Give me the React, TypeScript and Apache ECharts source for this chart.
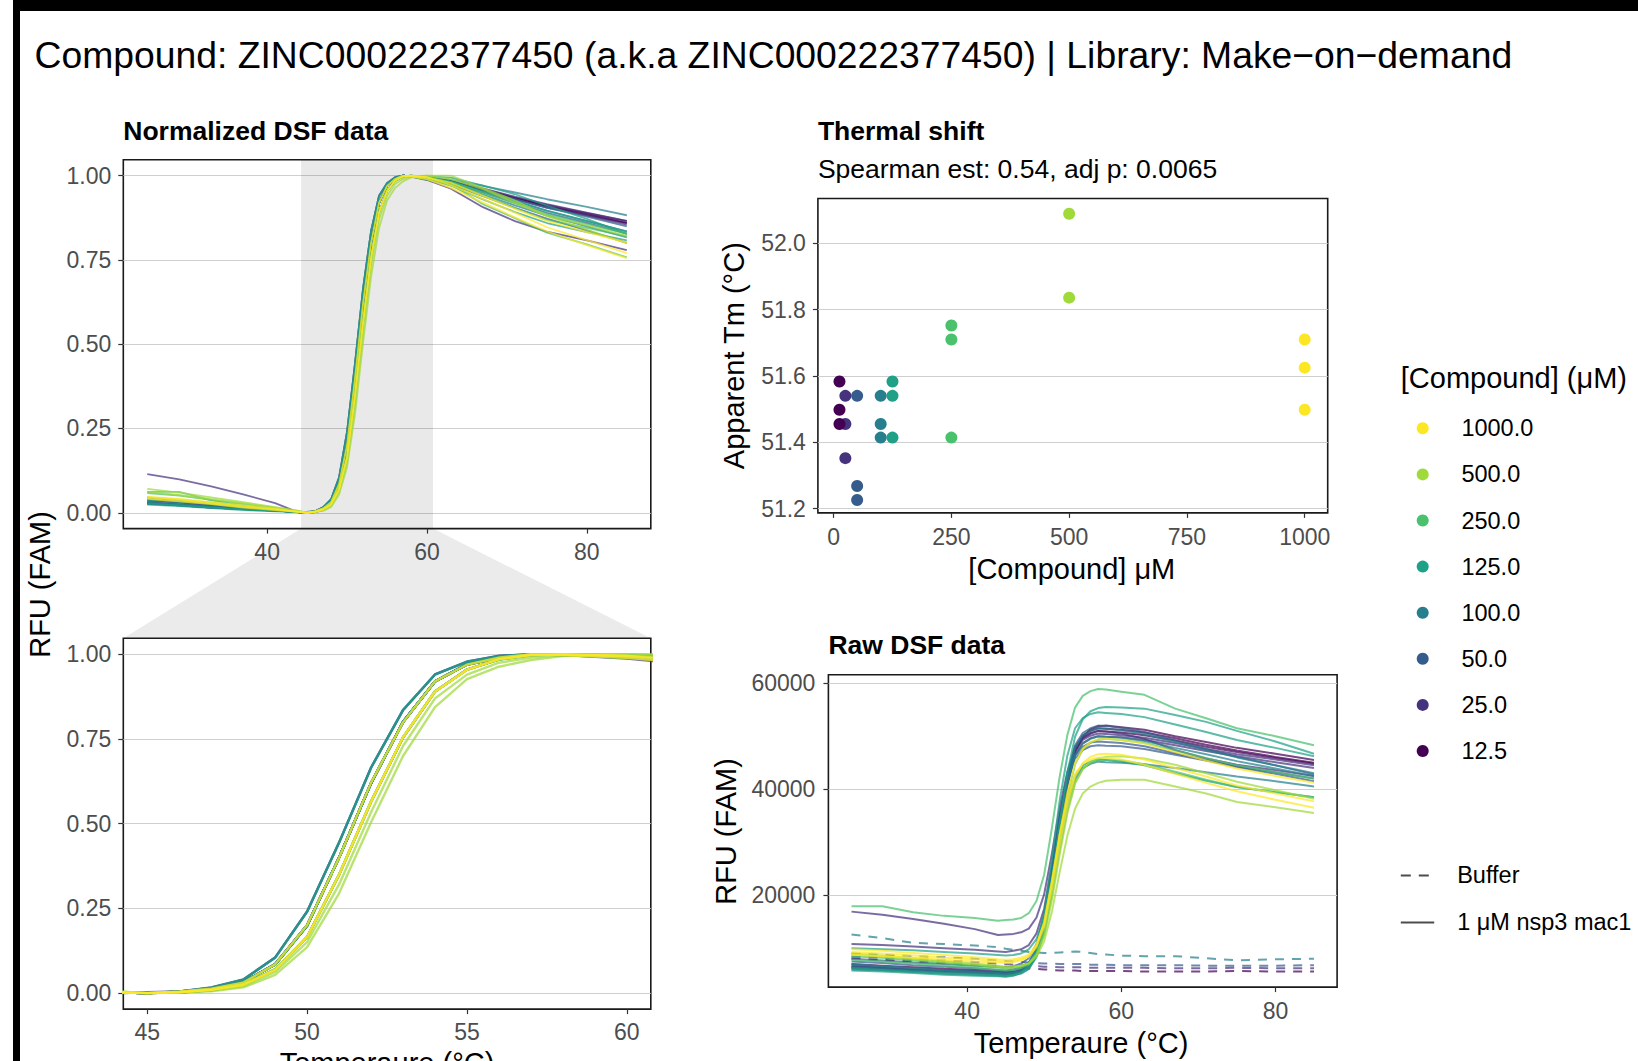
import React, { useEffect, useRef } from "react";
import * as echarts from "echarts";

const W = 1638;
const H = 1061;
const FONT = '"Liberation Sans", Arial, Helvetica, sans-serif';

// ---------------- data ----------------
const temps = [25, 29, 33, 37, 41, 44, 45, 46, 47, 48, 49, 50, 51, 52, 53, 54, 55, 56, 57, 58, 60, 63, 67, 71, 75, 80, 85];

const concLabels = ["1000.0", "500.0", "250.0", "125.0", "100.0", "50.0", "25.0", "12.5"];
const concColors = ["#FDE725", "#9FDA3A", "#4AC16D", "#1FA187", "#277F8E", "#365C8D", "#46337E", "#440154"];

// raw RFU, in hundreds of RFU, one array per well
const raw1000a = [98, 95, 91, 87, 83, 79, 78, 79, 82, 88, 107, 147, 224, 314, 393, 449, 476, 489, 494, 495, 493, 486, 470, 454, 439, 425, 412];
const raw1000b = [93, 90, 86, 82, 79, 76, 75, 76, 79, 85, 102, 140, 212, 296, 371, 424, 449, 461, 466, 467, 465, 456, 440, 424, 407, 392, 377];
const raw1000c = [88, 85, 82, 78, 75, 73, 72, 74, 77, 84, 105, 150, 227, 313, 382, 429, 448, 456, 460, 459, 456, 446, 429, 412, 396, 380, 365];
const raw500a = [90, 86, 81, 76, 71, 67, 65, 66, 67, 71, 84, 113, 169, 243, 312, 363, 392, 405, 412, 416, 418, 418, 405, 392, 376, 366, 355];
const raw500b = [88, 84, 79, 74, 69, 65, 63, 64, 66, 71, 88, 123, 191, 276, 354, 410, 438, 452, 458, 461, 462, 458, 446, 430, 414, 398, 382];
const raw250a = [179, 179, 168, 161, 157, 152, 153, 154, 157, 166, 189, 239, 327, 423, 502, 554, 576, 585, 589, 588, 584, 578, 552, 534, 515, 500, 483];
const raw250b = [85, 82, 77, 72, 67, 63, 62, 63, 66, 72, 90, 127, 200, 285, 359, 413, 438, 450, 455, 456, 454, 447, 433, 418, 404, 395, 385];
const raw250c = [78, 75, 71, 67, 63, 59, 58, 59, 62, 69, 89, 130, 211, 305, 388, 447, 475, 488, 494, 495, 493, 487, 473, 459, 445, 432, 420];
const raw125a = [62, 59, 56, 53, 51, 49, 48, 50, 53, 61, 83, 132, 225, 334, 431, 499, 532, 547, 553, 555, 554, 552, 540, 527, 510, 490, 467];
const raw125b = [58, 56, 53, 50, 48, 47, 46, 48, 54, 66, 98, 166, 268, 378, 463, 515, 534, 542, 545, 544, 542, 536, 522, 508, 493, 478, 462];
const raw125c = [100, 98, 96, 93, 90, 87, 86, 87, 90, 98, 117, 160, 234, 315, 382, 426, 445, 452, 456, 455, 452, 445, 430, 416, 404, 394, 385];
const raw100a = [64, 61, 58, 55, 53, 51, 50, 52, 56, 65, 90, 143, 236, 338, 422, 478, 501, 510, 515, 514, 511, 504, 489, 474, 460, 445, 430];
const raw100b = [60, 58, 55, 52, 50, 48, 47, 49, 52, 61, 86, 138, 228, 328, 409, 464, 486, 495, 500, 499, 497, 491, 478, 466, 453, 439, 425];
const raw100c = [70, 66, 62, 58, 55, 53, 52, 54, 57, 65, 86, 132, 212, 300, 372, 420, 440, 448, 452, 451, 450, 447, 440, 432, 424, 415, 405];
const raw50a = [75, 72, 68, 65, 62, 59, 58, 60, 64, 73, 97, 150, 243, 344, 428, 483, 506, 515, 520, 519, 516, 508, 492, 476, 461, 445, 428];
const raw50b = [68, 65, 62, 59, 57, 55, 54, 56, 61, 71, 100, 159, 248, 344, 418, 464, 480, 488, 490, 489, 487, 481, 468, 455, 442, 429, 415];
const raw50c = [80, 77, 73, 70, 67, 65, 64, 66, 71, 81, 108, 165, 250, 343, 414, 458, 474, 481, 483, 482, 481, 476, 465, 454, 443, 432, 420];
const raw25a = [169, 163, 155, 146, 136, 125, 126, 127, 130, 137, 158, 202, 279, 364, 433, 479, 498, 506, 510, 509, 505, 495, 474, 458, 446, 436, 425];
const raw25b = [108, 106, 103, 100, 97, 94, 93, 95, 98, 106, 128, 175, 258, 348, 423, 472, 493, 501, 505, 504, 502, 497, 487, 476, 466, 456, 445];
const raw25c = [65, 62, 59, 57, 55, 53, 52, 54, 57, 66, 90, 142, 231, 330, 410, 464, 487, 496, 500, 499, 498, 493, 483, 472, 462, 451, 440];
const raw12a = [70, 67, 64, 61, 59, 57, 56, 57, 60, 68, 88, 133, 218, 318, 406, 469, 499, 513, 519, 520, 517, 512, 500, 489, 478, 467, 455];
const raw12b = [66, 63, 60, 58, 56, 54, 53, 55, 59, 68, 92, 145, 238, 339, 423, 478, 501, 510, 515, 514, 512, 507, 496, 484, 473, 461, 450];
const raw12c = [62, 60, 57, 55, 53, 51, 50, 52, 56, 65, 89, 142, 234, 335, 418, 473, 496, 505, 510, 509, 507, 502, 492, 480, 470, 459, 448];

// buffer-only wells (dashed), hundreds of RFU
const bufTeal = [126, 119, 110, 108, 105, 102, 99, 97, 95, 93, 92, 91, 91, 92, 93, 94, 93, 91, 89, 88, 86, 85, 85, 81, 77, 79, 80];
const bufBlue = [90, 88, 85, 83, 80, 77, 76, 75, 74, 73, 72, 71, 71, 70, 70, 70, 70, 69, 69, 69, 68, 68, 68, 67, 67, 67, 68];
const bufPurple = [84, 82, 79, 77, 74, 71, 70, 69, 68, 67, 66, 65, 65, 64, 64, 64, 64, 63, 63, 63, 63, 63, 62, 62, 63, 62, 62];
const bufDark = [80, 78, 75, 72, 69, 66, 65, 64, 63, 62, 61, 60, 59, 58, 58, 58, 57, 57, 57, 57, 57, 56, 56, 56, 57, 56, 56];

// thermal shift scatter
const tmConc = [12.5, 12.5, 12.5, 25, 25, 25, 50, 50, 50, 100, 100, 100, 125, 125, 125, 250, 250, 250, 500, 500, 1000, 1000, 1000];
const tmValues = [51.583, 51.498, 51.455, 51.54, 51.455, 51.352, 51.54, 51.268, 51.226, 51.54, 51.455, 51.414, 51.583, 51.54, 51.414, 51.752, 51.71, 51.414, 52.089, 51.836, 51.71, 51.625, 51.498];

// ticks
const tempTicksFull = [40, 60, 80];
const tempTicksZoom = [45, 50, 55, 60];
const normTicks = [0, 0.25, 0.5, 0.75, 1];
const tmTicks = [51.2, 51.4, 51.6, 51.8, 52.0];
const concTicks = [0, 250, 500, 750, 1000];
const rawTicks = [20000, 40000, 60000];
const zoomRange = [44.25, 60.75];

// drawn from low to high concentration, so the high ones end up on top
const wells = [
  { conc: "12.5", values: raw12a }, { conc: "12.5", values: raw12b }, { conc: "12.5", values: raw12c },
  { conc: "25.0", values: raw25a }, { conc: "25.0", values: raw25b }, { conc: "25.0", values: raw25c },
  { conc: "50.0", values: raw50a }, { conc: "50.0", values: raw50b }, { conc: "50.0", values: raw50c },
  { conc: "100.0", values: raw100a }, { conc: "100.0", values: raw100b }, { conc: "100.0", values: raw100c },
  { conc: "125.0", values: raw125a }, { conc: "125.0", values: raw125b }, { conc: "125.0", values: raw125c },
  { conc: "250.0", values: raw250a }, { conc: "250.0", values: raw250b }, { conc: "250.0", values: raw250c },
  { conc: "500.0", values: raw500a }, { conc: "500.0", values: raw500b },
  { conc: "1000.0", values: raw1000a }, { conc: "1000.0", values: raw1000b }, { conc: "1000.0", values: raw1000c },
];
const buffers = [
  { conc: "100.0", values: bufTeal },
  { conc: "50.0", values: bufBlue },
  { conc: "25.0", values: bufPurple },
  { conc: "12.5", values: bufDark },
];

const colorOf = (c: string) => concColors[concLabels.indexOf(c)];
const normalize = (v: number[]) => {
  const mn = Math.min(...v);
  const mx = Math.max(...v);
  return v.map((x) => (x - mn) / (mx - mn));
};

// ---------------- layout ----------------
const G_NL = { left: 123.3, top: 159.8, width: 527.5, height: 368.8 };
const G_NB = { left: 123.3, top: 638.3, width: 527.5, height: 370.8 };
const G_TS = { left: 817.9, top: 198.5, width: 509.8, height: 314.4 };
const G_RAW = { left: 828.4, top: 674.8, width: 508.7, height: 312.3 };

const gridStyle = { show: true, borderColor: "#1a1a1a", borderWidth: 1.6, backgroundColor: "transparent", containLabel: false, outerBoundsMode: "none" };

function axisBase(ticks: number[], fmt: (v: number) => string, margin: number, split: boolean) {
  return {
    type: "value",
    axisLine: { show: false, onZero: false },
    axisTick: { show: true, length: 5, inside: false, customValues: ticks, lineStyle: { color: "#333333", width: 1.2 } },
    axisLabel: { show: true, customValues: ticks, formatter: fmt, fontSize: 23, color: "#4d4d4d", fontFamily: FONT, margin, showMinLabel: true, showMaxLabel: true, hideOverlap: false },
    splitLine: { show: split, lineStyle: { color: "#cfcfcf", width: 1.2 } },
  };
}

function line(xi: number, data: number[][], color: string, dashed: boolean, width: number) {
  return {
    type: "line",
    xAxisIndex: xi,
    yAxisIndex: xi,
    data,
    symbol: "none",
    showSymbol: false,
    silent: true,
    clip: true,
    z: 3,
    lineStyle: { color, width, opacity: 0.72, type: dashed ? [9, 8] : "solid" },
    itemStyle: { color },
  };
}

function buildOption() {
  const series: any[] = [];
  // shaded zoom area in top panel
  series.push({
    type: "line",
    xAxisIndex: 0,
    yAxisIndex: 0,
    data: [],
    silent: true,
    z: 1,
    markArea: {
      silent: true,
      itemStyle: { color: "rgba(0,0,0,0.085)" },
      data: [[{ xAxis: zoomRange[0] }, { xAxis: zoomRange[1] }]],
    },
  });
  wells.forEach((w) => {
    const n = normalize(w.values);
    series.push(line(0, temps.map((t, i) => [t, n[i]]), colorOf(w.conc), false, 1.8));
  });
  wells.forEach((w) => {
    const n = normalize(w.values);
    series.push(line(1, temps.map((t, i) => [t, n[i]]), colorOf(w.conc), false, 2.4));
  });
  buffers.forEach((b) => {
    series.push(line(3, temps.map((t, i) => [t, b.values[i] * 100]), colorOf(b.conc), true, 2));
  });
  wells.forEach((w) => {
    series.push(line(3, temps.map((t, i) => [t, w.values[i] * 100]), colorOf(w.conc), false, 2));
  });
  concLabels.forEach((c) => {
    const cv = parseFloat(c);
    const pts: number[][] = [];
    tmConc.forEach((x, i) => {
      if (x === cv) pts.push([x, tmValues[i]]);
    });
    series.push({
      type: "scatter",
      name: c,
      xAxisIndex: 2,
      yAxisIndex: 2,
      data: pts,
      symbol: "circle",
      symbolSize: 12,
      silent: true,
      z: 4,
      itemStyle: { color: colorOf(c), opacity: 1 },
    });
  });

  const f2 = (v: number) => v.toFixed(2);
  const f1 = (v: number) => v.toFixed(1);
  const f0 = (v: number) => String(Math.round(v));

  return {
    animation: false,
    backgroundColor: "#ffffff",
    textStyle: { fontFamily: FONT },
    grid: [
      { ...gridStyle, ...G_NL },
      { ...gridStyle, ...G_NB },
      { ...gridStyle, ...G_TS },
      { ...gridStyle, ...G_RAW },
    ],
    xAxis: [
      { ...axisBase(tempTicksFull, f0, 12, false), gridIndex: 0, min: 22, max: 88 },
      { ...axisBase(tempTicksZoom, f0, 11, false), gridIndex: 1, min: zoomRange[0], max: zoomRange[1] },
      { ...axisBase(concTicks, f0, 13, false), gridIndex: 2, min: -33.3, max: 1048.8 },
      { ...axisBase(tempTicksFull, f0, 12, false), gridIndex: 3, min: 22, max: 88 },
    ],
    yAxis: [
      { ...axisBase(normTicks, f2, 12, true), gridIndex: 0, min: -0.047, max: 1.047 },
      { ...axisBase(normTicks, f2, 12, true), gridIndex: 1, min: -0.047, max: 1.047 },
      { ...axisBase(tmTicks, f1, 12, true), gridIndex: 2, min: 51.187, max: 52.135 },
      { ...axisBase(rawTicks, f0, 13, true), gridIndex: 3, min: 2660, max: 61585 },
    ],
    series,
  };
}

function txt(text: string, x: number, y: number, size: number, o: any = {}) {
  return {
    type: "text",
    x,
    y,
    rotation: o.rot || 0,
    z: 20,
    silent: true,
    style: {
      text,
      x: 0,
      y: 0,
      fill: o.color || "#000000",
      fontSize: size,
      fontFamily: FONT,
      fontWeight: o.bold ? "bold" : "normal",
      align: o.align || "left",
      verticalAlign: "middle",
    },
  };
}

function buildGraphics(poly: number[][]) {
  const els: any[] = [];
  // outer frame of the screenshot
  els.push({ type: "rect", z: 30, silent: true, shape: { x: 13, y: 0, width: W - 13, height: 11 }, style: { fill: "#000000" } });
  els.push({ type: "rect", z: 30, silent: true, shape: { x: 13, y: 0, width: 7, height: H }, style: { fill: "#000000" } });
  // zoom connector
  els.push({ type: "polygon", z: -5, silent: true, shape: { points: poly }, style: { fill: "#ebebeb" } });

  els.push(txt("Compound: ZINC000222377450 (a.k.a ZINC000222377450) | Library: Make\u2212on\u2212demand", 34.5, 55.4, 37.3));
  els.push(txt("Normalized DSF data", 123.3, 130.6, 26.5, { bold: true }));
  els.push(txt("Thermal shift", 817.9, 130.6, 26.5, { bold: true }));
  els.push(txt("Spearman est: 0.54, adj p: 0.0065", 817.9, 169.2, 26.5));
  els.push(txt("Raw DSF data", 828.4, 644.5, 26.5, { bold: true }));

  els.push(txt("RFU (FAM)", 39.7, 584.5, 29, { rot: Math.PI / 2, align: "center" }));
  els.push(txt("Temperaure (\u00b0C)", 387, 1063, 29, { align: "center" }));
  els.push(txt("Apparent Tm (\u00b0C)", 734.4, 355.7, 29, { rot: Math.PI / 2, align: "center" }));
  els.push(txt("[Compound] \u03bcM", 1071.8, 569.3, 29, { align: "center" }));
  els.push(txt("RFU (FAM)", 726, 831.5, 29, { rot: Math.PI / 2, align: "center" }));
  els.push(txt("Temperaure (\u00b0C)", 1081, 1042.5, 29, { align: "center" }));

  // colour legend
  els.push(txt("[Compound] (\u03bcM)", 1400.8, 378.2, 29));
  concLabels.forEach((c, i) => {
    const y = 428.3 + i * 46.1;
    els.push({ type: "circle", z: 20, silent: true, shape: { cx: 1422.7, cy: y, r: 6 }, style: { fill: colorOf(c) } });
    els.push(txt(c, 1461.4, y, 23.5));
  });

  // linetype legend
  els.push({ type: "line", z: 20, silent: true, shape: { x1: 1400.8, y1: 875.4, x2: 1434.2, y2: 875.4 }, style: { stroke: "#4d4d4d", lineWidth: 2, lineDash: [10, 8] } });
  els.push(txt("Buffer", 1457.2, 875.4, 23.5));
  els.push({ type: "line", z: 20, silent: true, shape: { x1: 1400.8, y1: 922.4, x2: 1434.2, y2: 922.4 }, style: { stroke: "#4d4d4d", lineWidth: 2 } });
  els.push(txt("1 \u03bcM nsp3 mac1", 1457.2, 922.4, 23.5));
  return els;
}

export default function App() {
  const ref = useRef<HTMLDivElement>(null);
  useEffect(() => {
    if (!ref.current) return;
    const chart = echarts.init(ref.current, null, { renderer: "svg" });
    chart.setOption(buildOption() as any);
    const a = chart.convertToPixel({ gridIndex: 0 }, [zoomRange[0], -0.047]) as number[];
    const b = chart.convertToPixel({ gridIndex: 0 }, [zoomRange[1], -0.047]) as number[];
    const c = chart.convertToPixel({ gridIndex: 1 }, [zoomRange[1], 1.047]) as number[];
    const d = chart.convertToPixel({ gridIndex: 1 }, [zoomRange[0], 1.047]) as number[];
    chart.setOption({ graphic: buildGraphics([a, b, c, d]) } as any);
    return () => chart.dispose();
  }, []);
  return <div ref={ref} style={{ position: "fixed", left: 0, top: 0, width: W, height: H, background: "#ffffff" }} />;
}
